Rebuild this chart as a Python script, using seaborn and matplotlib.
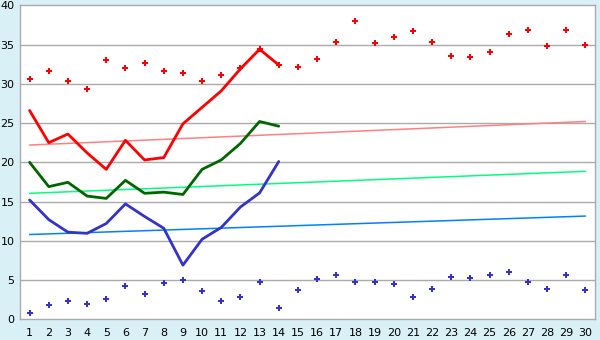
import matplotlib
matplotlib.use("Agg")
import matplotlib.pyplot as plt
import seaborn as sns
import numpy as np
import pandas as pd

days = list(range(1, 31))
tick_labels = [str(d) for d in days]

# daily maximum record points (red) and minimum record points (blue)
max_points = [30.6, 31.6, 30.4, 29.4, 33.0, 32.0, 32.6, 31.6, 31.4, 30.4,
              31.1, 32.0, 34.4, 32.4, 32.2, 33.1, 35.3, 38.0, 35.2, 36.0,
              36.7, 35.3, 33.5, 33.4, 34.0, 36.3, 36.9, 34.8, 36.9, 35.0]
min_points = [0.8, 1.8, 2.3, 1.9, 2.55, 4.2, 3.2, 4.6, 5.0, 3.6,
              2.3, 2.9, 4.7, 1.4, 3.7, 5.1, 5.7, 4.7, 4.7, 4.45,
              2.8, 3.8, 5.35, 5.2, 5.6, 6.0, 4.7, 3.8, 5.6, 3.7]

# observed lines for days 1-14
obs_days = list(range(1, 15))
obs_max = [26.6, 22.5, 23.6, 21.2, 19.1, 22.8, 20.3, 20.6, 24.9, 27.0, 29.1, 31.9, 34.4, 32.4]
obs_mean = [20.0, 16.9, 17.45, 15.7, 15.4, 17.7, 16.05, 16.2, 15.9, 19.1, 20.3, 22.4, 25.2, 24.6]
obs_min = [15.2, 12.7, 11.1, 10.95, 12.2, 14.7, 13.1, 11.6, 6.9, 10.2, 11.7, 14.3, 16.1, 20.1]

# normal (trend) lines: values at day 1 and day 30
normal_days = [1, 30]
normal_max = [22.2, 25.2]
normal_mean = [16.05, 18.85]
normal_min = [10.8, 13.15]

sns.set_style("white")
plt.rcParams['font.family'] = ['DejaVu Sans']

fig = plt.figure(figsize=(6, 3.4), dpi=100)
fig.patch.set_facecolor("#DAF0F7")
ax = fig.add_axes([20/600, 1-319.3/340, 575/600, 314/340])
ax.set_facecolor("white")

grid_c = "#AAAAAA"
for v in range(5, 40, 5):
    ax.axhline(v, color=grid_c, lw=1, zorder=0)

sns.lineplot(x=normal_days, y=normal_max, color="#FF8080", lw=1.1, ax=ax)
sns.lineplot(x=normal_days, y=normal_mean, color="#00FF80", lw=1.1, ax=ax)
sns.lineplot(x=normal_days, y=normal_min, color="#0080FF", lw=1.1, ax=ax)

sns.lineplot(x=obs_days, y=obs_max, color="#FF0000", lw=2, ax=ax)
sns.lineplot(x=obs_days, y=obs_mean, color="#006600", lw=2, ax=ax)
sns.lineplot(x=obs_days, y=obs_min, color="#3333CC", lw=2, ax=ax)

sns.scatterplot(x=days, y=max_points, color="#FF0000", marker="P", s=20,
                linewidth=0, ax=ax, zorder=5)
sns.scatterplot(x=days, y=min_points, color="#3333CC", marker="P", s=20,
                linewidth=0, ax=ax, zorder=5)

ax.set_xlim(0.5, 30.5)
ax.set_ylim(0, 40)
ax.set_xticks(days)
ax.set_xticklabels(tick_labels)
ax.set_yticks(range(0, 41, 5))
for s in ax.spines.values():
    s.set_color(grid_c)
    s.set_linewidth(1)
    s.set_visible(True)
ax.tick_params(axis="both", colors=grid_c, labelcolor="black", labelsize=8,
               length=4, width=1, pad=2, direction="out")
ax.tick_params(axis="y", length=3, pad=1)
ax.set_xlabel("")
ax.set_ylabel("")

fig.savefig("out.png", dpi=100, facecolor=fig.get_facecolor())
